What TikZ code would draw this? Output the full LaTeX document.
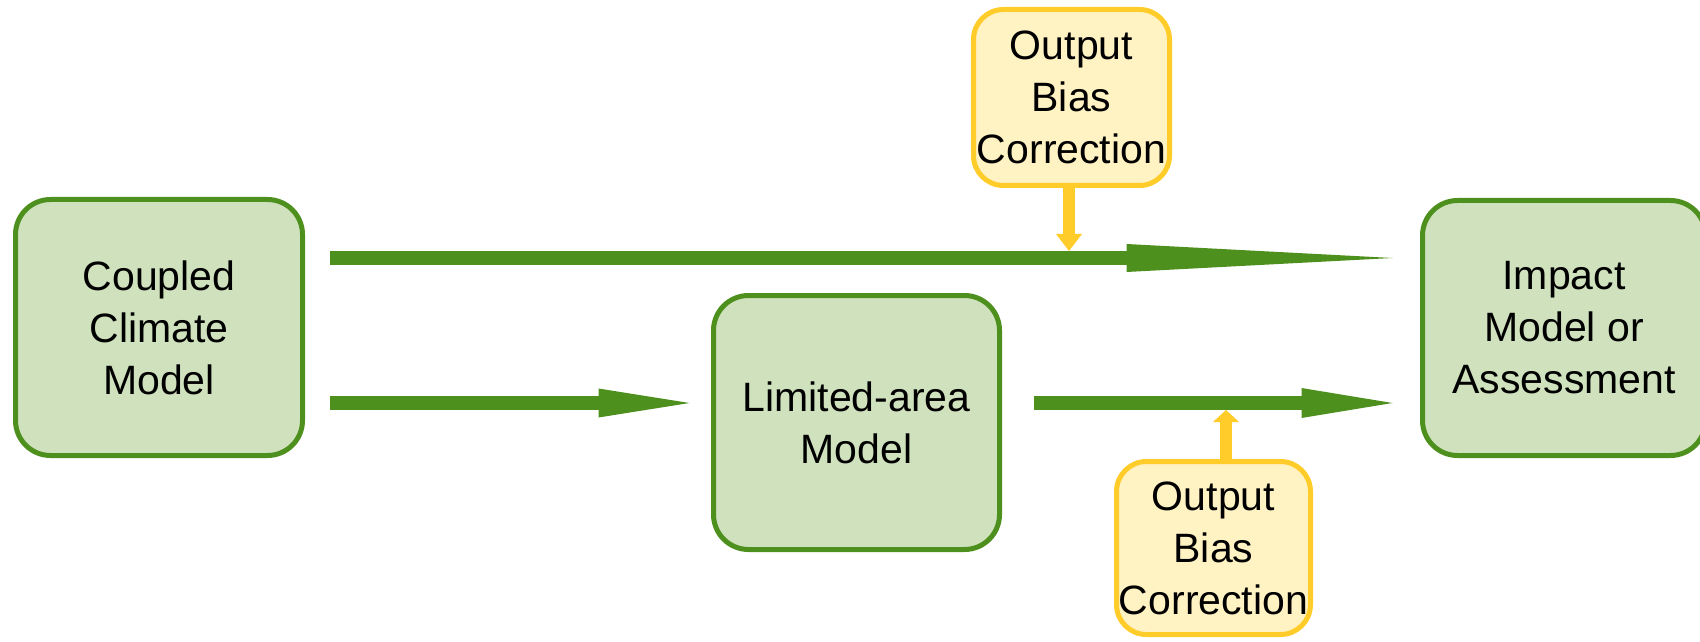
\documentclass[tikz,border=0pt]{standalone}
\usepackage{fontspec}
\setmainfont{Liberation Sans}
\usetikzlibrary{arrows.meta}
\definecolor{gstroke}{HTML}{4E901E}
\definecolor{gfill}{HTML}{CFE1BD}
\definecolor{ystroke}{HTML}{FFCC29}
\definecolor{yfill}{HTML}{FFF2C3}
\tikzset{
  gbox/.style={draw=gstroke, fill=gfill, line width=5pt, rounded corners=35pt,
    align=center, inner sep=0pt, font=\fontsize{41pt}{52pt}\selectfont},
  ybox/.style={draw=ystroke, fill=yfill, line width=5pt, rounded corners=30pt,
    align=center, inner sep=0pt, font=\fontsize{41pt}{52pt}\selectfont},
  garrow/.style={draw=gstroke, line width=14pt},
  yarrow/.style={draw=ystroke, line width=12.5pt},
}
\begin{document}
\begin{tikzpicture}[x=1pt,y=1pt]
\useasboundingbox (0,0) rectangle (1700,641);
\node[gbox, minimum width=287pt, minimum height=256pt] (ccm) at (159,313.5) {Coupled\\Climate\\Model};
\node[gbox, minimum width=286pt, minimum height=254pt] (lam) at (856.5,218.5) {Limited-area\\Model};
\node[gbox, minimum width=283pt, minimum height=255pt] (imp) at (1564,313) {Impact\\Model or\\Assessment};
\node[ybox, minimum width=196pt, minimum height=176pt] (obc1) at (1071.5,543.5) {Output\\Bias\\Correction};
\node[ybox, minimum width=194pt, minimum height=173pt] (obc2) at (1213.5,93) {Output\\Bias\\Correction};

\coordinate (t1) at ([xshift=24.5pt,yshift=69.5pt]ccm.east);
\coordinate (b1) at ([xshift=24.5pt,yshift=-75.5pt]ccm.east);
\coordinate (b2) at ([xshift=31.5pt,yshift=19.5pt]lam.east);

\draw[garrow, -{Triangle[length=266pt,width=28pt,line width=0pt]}, shorten >=27.5pt] (t1) -- (t1 -| imp.west);
\draw[garrow, -{Triangle[length=91pt,width=29pt,line width=0pt]}, shorten >=21.5pt] (b1) -- (b1 -| lam.west);
\draw[garrow, -{Triangle[length=91pt,width=30pt,line width=0pt]}, shorten >=27.5pt] (b2) -- (b2 -| imp.west);

\coordinate (y1s) at ([xshift=-2.5pt]obc1.south);
\coordinate (y1e) at ([yshift=7pt]y1s |- t1);
\draw[yarrow, -{Triangle[length=17pt,width=26pt,line width=0pt]}] (y1s) -- (y1e);
\coordinate (y2s) at ([xshift=12.5pt]obc2.north);
\coordinate (y2e) at ([yshift=-7pt]y2s |- b2);
\draw[yarrow, -{Triangle[length=12pt,width=26pt,line width=0pt]}] (y2s) -- (y2e);
\end{tikzpicture}
\end{document}
